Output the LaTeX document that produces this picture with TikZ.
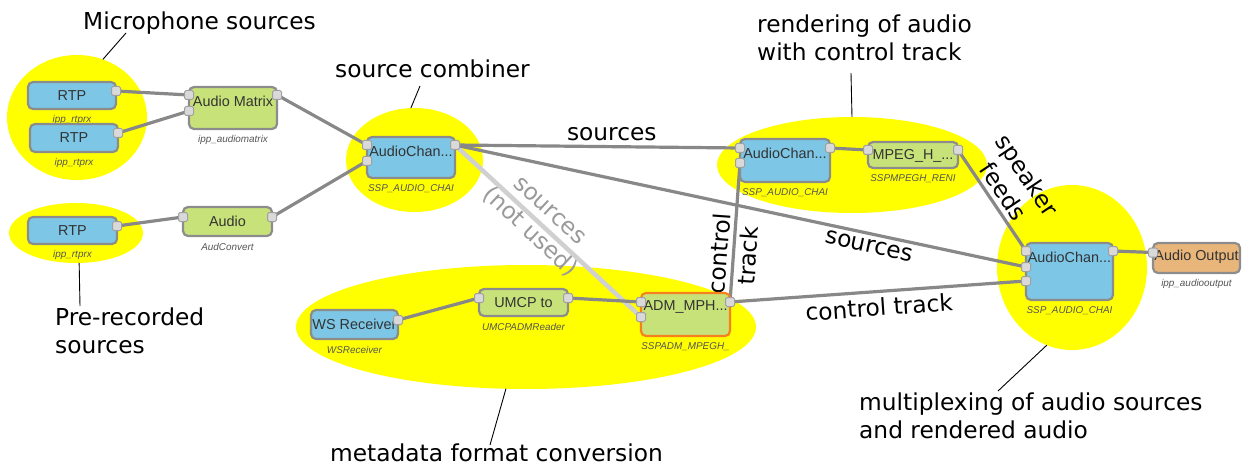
\documentclass[tikz,border=0pt]{standalone}
\usepackage{fontspec}
\setmainfont{DejaVu Sans}
\newfontfamily\nodefont{Liberation Sans}
\usetikzlibrary{calc,shapes.geometric,positioning}

\pgfdeclarelayer{hilite}
\pgfdeclarelayer{wiring}
\pgfsetlayers{hilite,wiring,main}

\definecolor{zoneyellow}{HTML}{FFFF00}
\definecolor{chanblue}{HTML}{7DC6E6}
\definecolor{procgreen}{HTML}{C8E27A}
\definecolor{outorange}{HTML}{E8B57B}
\definecolor{boxgray}{HTML}{8C8C8C}
\definecolor{wiregray}{HTML}{888888}
\definecolor{unusedgray}{HTML}{D0D0D0}
\definecolor{unusedtext}{HTML}{9A9A9A}
\definecolor{admorange}{HTML}{F5821F}
\definecolor{portfill}{HTML}{D9D9D9}
\definecolor{portedge}{HTML}{A0A0A0}
\definecolor{labelgray}{HTML}{333333}
\definecolor{subgray}{HTML}{555555}

\tikzset{
  zone/.style={ellipse, fill=zoneyellow, draw=none, inner sep=0pt, outer sep=0pt},
  flowbox/.style={draw=boxgray, line width=2.2pt, rounded corners=5pt, inner sep=0pt, outer sep=0pt},
  boxtext/.style={font=\nodefont\fontsize{14.4}{16}\selectfont, text=labelgray, inner sep=0pt},
  subtext/.style={font=\nodefont\itshape\fontsize{9.9}{11}\selectfont, text=subgray, inner sep=0pt},
  port/.style={draw=portedge, fill=portfill, line width=1pt, rounded corners=1.5pt,
               minimum size=9pt, inner sep=0pt, outer sep=0pt},
  wire/.style={draw=wiregray, line width=3.2pt},
  unusedwire/.style={draw=unusedgray, line width=4.5pt},
  wirelabel/.style={font=\fontsize{23.3}{29}\selectfont, text=black, inner sep=0pt},
  note/.style={font=\fontsize{23.3}{28}\selectfont, text=black, inner sep=0pt, anchor=north west, align=left},
  leader/.style={draw=black, line width=0.9pt},
}

% node-red style block: name, x, y (top left), width, height, style, label, type
\newcommand\flow[8]{%
  \node[flowbox,#6,minimum width=#4pt,minimum height=#5pt,anchor=north west] (#1) at (#2,#3) {};
  \node[boxtext] (#1-t) at ($(#1.north)+(0,14)$) {#7};
  \node[subtext] (#1-s) at ($(#1.south)+(0,11)$) {#8};
}
\newcommand\inport[3]{\node[port] (#1) at ($(#2.north west)+(0,#3)$) {};}
\newcommand\outport[3]{\node[port] (#1) at ($(#2.north east)+(0,#3)$) {};}

\begin{document}
\begin{tikzpicture}[x=1pt, y=-1pt]
\useasboundingbox (0,0) rectangle (1245,468);

% highlighted groups
\begin{pgfonlayer}{hilite}
  \node[zone, minimum width=140pt, minimum height=125pt] (micZ)  at (77,117.5) {};
  \node[zone, minimum width=134pt, minimum height=60pt]  (preZ)  at (76,233) {};
  \node[zone, minimum width=137pt, minimum height=104pt] (combZ) at (414.5,160) {};
  \node[zone, minimum width=460pt, minimum height=124pt] (metaZ) at (526,327) {};
  \node[zone, minimum width=270pt, minimum height=96pt]  (rendZ) at (852,165) {};
  \node[zone, minimum width=150pt, minimum height=165pt] (muxZ)  at (1072,267.5) {};
\end{pgfonlayer}

% processing blocks
\flow{rtp1}{28}{82}{88}{27}{fill=chanblue}{RTP}{ipp\_rtprx}
\flow{rtp2}{30}{124}{88}{28}{fill=chanblue}{RTP}{ipp\_rtprx}
\flow{am}{189}{87}{88}{42}{fill=procgreen}{Audio Matrix}{ipp\_audiomatrix}
\flow{rtp3}{28}{217}{89}{27}{fill=chanblue}{RTP}{ipp\_rtprx}
\flow{aud}{183}{207}{89}{29}{fill=procgreen}{Audio}{AudConvert}
\flow{comb}{367}{137}{88}{41}{fill=chanblue}{AudioChan...}{SSP\_AUDIO\_CHAI}
\flow{ws}{311}{310}{87}{29}{fill=chanblue}{WS Receiver}{WSReceiver}
\flow{umcp}{479}{289}{89}{27}{fill=procgreen}{UMCP to}{UMCPADMReader}
\flow{adm}{641}{293}{89}{43}{fill=procgreen,draw=admorange}{ADM\_MPH...}{SSPADM\_MPEGH\_}
\flow{rend}{740}{139}{90}{43}{fill=chanblue}{AudioChan...}{SSP\_AUDIO\_CHAI}
\flow{mpeg}{868}{142}{90}{26}{fill=procgreen}{MPEG\_H\_...}{SSPMPEGH\_RENI}
\flow{mux}{1026}{243}{87}{57}{fill=chanblue}{AudioChan...}{SSP\_AUDIO\_CHAI}
\flow{aout}{1153}{243}{87}{30}{fill=outorange}{Audio Output}{ipp\_audiooutput}

% ports
\outport{rtp1-o}{rtp1}{9}
\outport{rtp2-o}{rtp2}{9}
\inport{am-i1}{am}{8}
\inport{am-i2}{am}{24}
\outport{am-o}{am}{8}
\outport{rtp3-o}{rtp3}{9}
\inport{aud-i}{aud}{10}
\outport{aud-o}{aud}{10}
\inport{comb-i1}{comb}{8}
\inport{comb-i2}{comb}{24}
\outport{comb-o}{comb}{8}
\outport{ws-o}{ws}{10}
\inport{umcp-i}{umcp}{9}
\outport{umcp-o}{umcp}{9}
\inport{adm-i1}{adm}{9}
\inport{adm-i2}{adm}{24}
\outport{adm-o}{adm}{9}
\inport{rend-i1}{rend}{9}
\inport{rend-i2}{rend}{24}
\outport{rend-o}{rend}{9}
\inport{mpeg-i}{mpeg}{8}
\outport{mpeg-o}{mpeg}{8}
\inport{mux-i1}{mux}{8}
\inport{mux-i2}{mux}{24}
\inport{mux-i3}{mux}{38}
\outport{mux-o}{mux}{8}
\inport{aout-i}{aout}{9.5}

% connections
\begin{pgfonlayer}{wiring}
  \draw[wire] (rtp1-o.center) -- (am-i1.center);
  \draw[wire] (rtp2-o.center) -- (am-i2.center);
  \draw[wire] (am-o.center) -- (comb-i1.center);
  \draw[wire] (rtp3-o.center) -- (aud-i.center);
  \draw[wire] (aud-o.center) -- (comb-i2.center);
  \draw[unusedwire] (comb-o.center) -- node[wirelabel, pos=0.45, sloped, text=unusedtext, align=center] (lbl-unused) {sources\\(not used)} (adm-i2.center);
  \draw[wire] (comb-o.center) -- node[wirelabel, pos=0.55, above=4pt] (lbl-src1) {sources} (rend-i1.center);
  \draw[wire] (comb-o.center) -- node[wirelabel, pos=0.73, sloped, below=4pt] (lbl-src2) {sources} (mux-i2.center);
  \draw[wire] (ws-o.center) -- (umcp-i.center);
  \draw[wire] (umcp-o.center) -- (adm-i1.center);
  \draw[wire] (adm-o.center) -- node[wirelabel, pos=0.34, sloped, align=center] (lbl-ctl1) {control\\track} (rend-i2.center);
  \draw[wire] (adm-o.center) -- node[wirelabel, pos=0.5, sloped, below=5pt] (lbl-ctl2) {control track} (mux-i3.center);
  \draw[wire] (rend-o.center) -- (mpeg-i.center);
  \draw[wire] (mpeg-o.center) -- node[wirelabel, pos=0.49, sloped, above=4pt, align=center] (lbl-spk) {speaker\\feeds} (mux-i1.center);
  \draw[wire] (mux-o.center) -- (aout-i.center);
\end{pgfonlayer}

% annotations
\node[note] (note-mic)  at (83,12)   {Microphone sources};
\node[note] (note-comb) at (335,60)  {source combiner};
\node[note] (note-rend) at (757,15)  {rendering of audio\\with control track};
\node[note] (note-pre)  at (55,308)  {Pre-recorded\\sources};
\node[note] (note-meta) at (330,444) {metadata format conversion};
\node[note] (note-mux)  at (859,393) {multiplexing of audio sources\\and rendered audio};

\coordinate (lead-mic)  at (126,33);
\coordinate (lead-comb) at (420,86);
\coordinate (lead-rend) at (851,73);
\coordinate (lead-pre)  at (80,306);
\coordinate (lead-meta) at (490,445);
\coordinate (lead-mux)  at (998,391);

\draw[leader] (lead-mic)  -- (micZ.66);
\draw[leader] (lead-comb) -- (combZ.94);
\draw[leader] (lead-rend) -- (rendZ.north);
\draw[leader] (lead-pre)  -- (preZ.276);
\draw[leader] (lead-meta) -- (metaZ.252);
\draw[leader] (lead-mux)  -- (muxZ.252);
\end{tikzpicture}
\end{document}
